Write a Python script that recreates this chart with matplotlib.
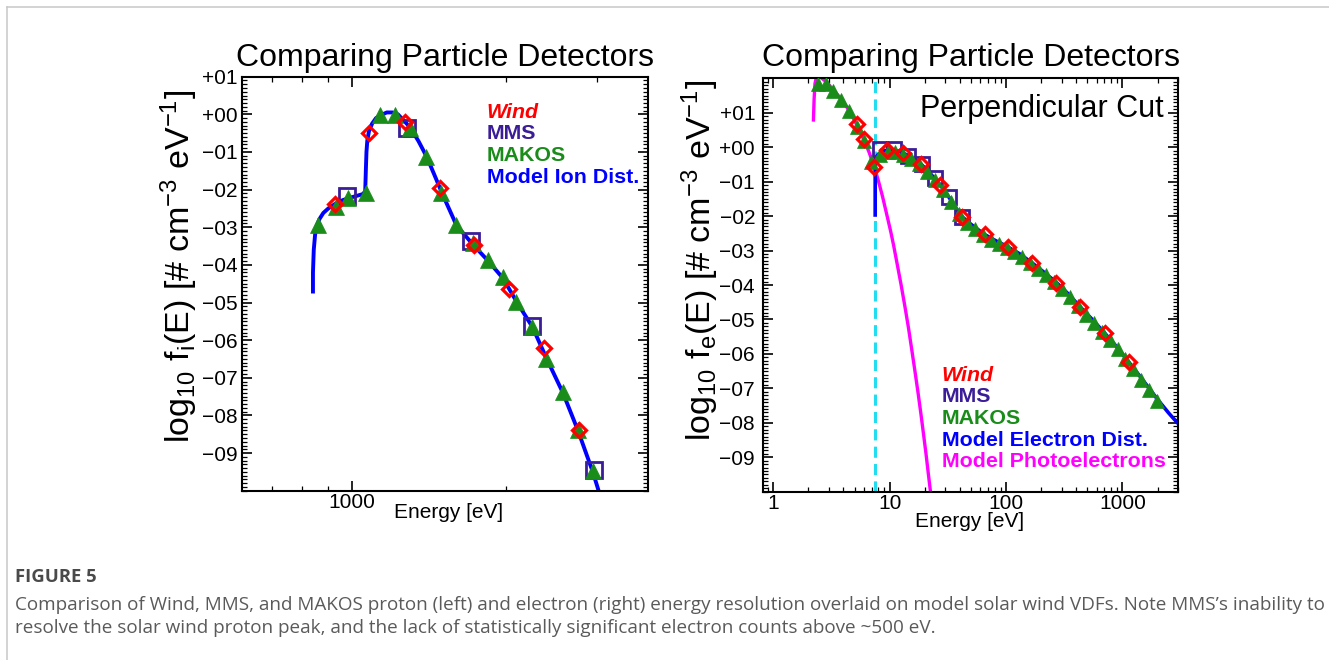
import numpy as np
import matplotlib
matplotlib.use("Agg")
import matplotlib.pyplot as plt
from matplotlib.ticker import FixedLocator, FuncFormatter, MultipleLocator, LogLocator, NullFormatter
from matplotlib.lines import Line2D

plt.rcParams['font.family'] = ['Liberation Sans', 'DejaVu Sans']
plt.rcParams['mathtext.fontset'] = 'custom'
plt.rcParams['mathtext.rm'] = 'Liberation Sans'
plt.rcParams['mathtext.it'] = 'Liberation Sans:italic'
plt.rcParams['mathtext.bf'] = 'Liberation Sans:bold'
plt.rcParams['lines.scale_dashes'] = False

# ---------------- data: left panel (protons) ----------------
ion_model_E = [840, 840, 843, 848, 855, 865, 880, 900, 930, 960, 990, 1020, 1050, 1062,
               1065, 1068, 1072, 1080, 1095, 1115, 1140, 1170, 1200, 1230, 1270, 1300,
               1350, 1400, 1450, 1500, 1600, 1720, 1840, 1970, 2100, 2250, 2400, 2580,
               2760, 2950, 3060]
ion_model_y = [-4.76, -4.2, -3.6, -3.2, -2.95, -2.78, -2.62, -2.5, -2.37, -2.28, -2.22,
               -2.17, -2.12, -2.05, -1.5, -1.0, -0.7, -0.45, -0.25, -0.1, -0.02, 0.05,
               0.05, 0.0, -0.2, -0.35, -0.72, -1.13, -1.62, -2.1, -2.95, -3.45, -3.88,
               -4.35, -5.0, -5.65, -6.5, -7.4, -8.4, -9.5, -10.2]
ion_wind_E = [928, 1081, 1269, 1485, 1734, 2021, 2369, 2770]
ion_wind_y = [-2.37, -0.49, -0.20, -1.97, -3.48, -4.63, -6.21, -8.38]
ion_mms_E = [980, 1284, 1707, 2247, 2960]
ion_mms_y = [-2.16, -0.37, -3.36, -5.63, -9.46]
ion_makos_E = [861, 930, 985, 1065, 1136, 1215, 1298, 1394, 1492, 1596, 1720, 1840,
               1970, 2089, 2250, 2393, 2580, 2757, 2950]
ion_makos_y = [-2.94, -2.45, -2.23, -2.10, -0.02, -0.02, -0.35, -1.13, -2.10, -2.94,
               -3.43, -3.86, -4.32, -4.98, -5.65, -6.49, -7.38, -8.40, -9.48]

# ---------------- data: right panel (electrons) ----------------
ele_model_E = [7.5, 7.5, 8.0, 9.0, 10.5, 12, 14, 16.5, 18.7, 22, 27.3, 33, 38, 41.9, 50,
               65, 80, 103, 130, 166, 210, 271, 340, 432, 550, 705, 900, 1129, 1450,
               2000, 2500, 3000]
ele_model_y = [-2.02, -0.32, -0.2, -0.1, -0.07, -0.12, -0.22, -0.36, -0.50, -0.74, -1.10,
               -1.50, -1.82, -2.02, -2.24, -2.53, -2.70, -2.89, -3.09, -3.35, -3.62,
               -3.93, -4.25, -4.63, -5.0, -5.40, -5.81, -6.23, -6.7, -7.32, -7.72, -8.02]
photo_E = [2.21, 2.24, 2.28, 2.35, 2.5, 2.84, 3.25, 3.83, 4.45, 5.2, 6.0, 6.6, 7.37, 8.0,
           8.7, 9.5, 10.2, 10.8, 11.6, 12.5, 13.5, 14.5, 15.5, 16.5, 17.5, 18.5, 19.5,
           20.5, 21.5, 22.4, 23.0]
photo_y = [0.79, 1.4, 1.85, 2.05, 2.05, 1.9, 1.68, 1.40, 1.08, 0.66, 0.22, -0.12, -0.57,
           -0.98, -1.45, -2.0, -2.45, -2.85, -3.4, -3.98, -4.62, -5.25, -5.9, -6.52,
           -7.12, -7.72, -8.32, -8.9, -9.5, -10.0, -10.4]
ele_wind_E = [5.23, 6.04, 7.37, 9.48, 13.0, 18.7, 27.3, 41.9, 65.3, 103, 166, 271, 432,
              705, 1129]
ele_wind_y = [0.67, 0.24, -0.57, -0.08, -0.16, -0.50, -1.10, -2.02, -2.53, -2.89, -3.35,
              -3.93, -4.63, -5.40, -6.23]
ele_mms_E = [8.3, 10.9, 14.4, 19.0, 24.5, 32.2, 42.0]
ele_mms_y = [-0.06, -0.06, -0.26, -0.50, -0.89, -1.45, -2.03]
ele_makos_E = [2.44, 2.84, 3.25, 3.83, 4.45, 5.2, 6.0, 6.9,
               8.2, 9.6, 11.2, 13.1, 15.3, 17.9, 21.0, 24.5, 28.7, 33.6, 39.3, 46.0,
               53.8, 62.9, 73.6, 86.1, 101, 118, 138, 161, 189, 221, 258, 302, 354, 414,
               484, 566, 663, 775, 907, 1061, 1242, 1453, 1700, 1990]
ele_makos_y = [1.83, 1.83, 1.62, 1.37, 1.05, 0.60, 0.17, -0.42,
               -0.23, -0.13, -0.14, -0.22, -0.34, -0.50, -0.72, -0.96, -1.25, -1.59,
               -1.94, -2.19, -2.37, -2.55, -2.68, -2.81, -2.93, -3.05, -3.20, -3.37,
               -3.54, -3.72, -3.92, -4.13, -4.36, -4.61, -4.86, -5.09, -5.35, -5.60,
               -5.87, -6.15, -6.45, -6.75, -7.05, -7.36]
cutoff_E = 7.5

y_ticks = list(range(-9, 2))
left_xticks = [1000]
right_xticks = [1, 10, 100, 1000]

legend_left = ["Wind", "MMS", "MAKOS", "Model Ion Dist."]
legend_right = ["Wind", "MMS", "MAKOS", "Model Electron Dist.", "Model Photoelectrons"]
title = "Comparing Particle Detectors"
caption_head = "FIGURE 5"
caption_1 = ("Comparison of Wind, MMS, and MAKOS proton (left) and electron (right) energy "
             "resolution overlaid on model solar wind VDFs. Note MMS\u2019s inability to")
caption_2 = ("resolve the solar wind proton peak, and the lack of statistically significant "
             "electron counts above ~500 eV.")

# ---------------- styling ----------------
WIND_C = '#ff0000'
MMS_C = '#3a1d97'
MAKOS_C = '#1a8c1a'
MODEL_C = '#0000ff'
PHOTO_C = '#ff00ff'
CYAN_C = '#22dcf0'

W, H = 1329, 660
fig = plt.figure(figsize=(W / 100, H / 100), dpi=100)


def px_axes(x0, y0, x1, y1):
    return fig.add_axes([x0 / W, 1 - y1 / H, (x1 - x0) / W, (y1 - y0) / H])


def ftext(x, y, s, **kw):
    return fig.text(x / W, 1 - y / H, s, **kw)


def ylab(v, pos):
    n = int(round(v))
    return ('+' if n >= 0 else '\u2212') + f"{abs(n):02d}"


def style_axes(ax, ypad):
    for sp in ax.spines.values():
        sp.set_linewidth(1.5)
    ax.tick_params(which='both', direction='in', top=True, right=True, labelsize=15,
                   colors='black')
    ax.tick_params(which='major', length=7.5, width=1.2)
    ax.tick_params(which='minor', length=3.8, width=0.9)
    ax.tick_params(axis='x', which='both', pad=2)
    ax.tick_params(axis='y', which='both', pad=ypad)
    ax.yaxis.set_major_locator(FixedLocator(y_ticks))
    ax.yaxis.set_major_formatter(FuncFormatter(ylab))
    ax.yaxis.set_minor_locator(MultipleLocator(0.1))


# ---------------- left panel ----------------
axL = px_axes(241.7, 76.7, 648, 490.7)
axL.set_xscale('log')
axL.plot(ion_model_E, ion_model_y, color=MODEL_C, lw=2.8, solid_capstyle='butt', zorder=2)
axL.plot(ion_mms_E, ion_mms_y, ls='none', marker='s', ms=11, mfc='none', mec=MMS_C,
         mew=2.0, zorder=3)
axL.plot(ion_makos_E, ion_makos_y, ls='none', marker='^', ms=11, mfc=MAKOS_C, mec=MAKOS_C,
         mew=0.5, zorder=4)
axL.plot(ion_wind_E, ion_wind_y, ls='none', marker='D', ms=6.8, mfc='none', mec=WIND_C,
         mew=2.3, zorder=5)
axL.set_xlim(610, 3780)
axL.set_ylim(-10, 1)
axL.xaxis.set_major_locator(FixedLocator(left_xticks))
axL.xaxis.set_major_formatter(FuncFormatter(lambda v, p: f"{v:.0f}"))
axL.xaxis.set_minor_locator(LogLocator(base=10, subs=np.arange(2, 10), numticks=20))
axL.xaxis.set_minor_formatter(NullFormatter())
style_axes(axL, 3)

# ---------------- right panel ----------------
axR = px_axes(762.7, 78.3, 1178, 491.7)
axR.set_xscale('log')
vl = axR.axvline(cutoff_E, color=CYAN_C, lw=2.2, zorder=1)
vl.set_dashes((8.0, 4.5))
axR.plot(photo_E, photo_y, color=PHOTO_C, lw=2.4, zorder=2)
axR.plot(ele_model_E, ele_model_y, color=MODEL_C, lw=2.6, solid_capstyle='butt', zorder=2.5)
axR.plot(ele_mms_E, ele_mms_y, ls='none', marker='s', ms=10, mfc='none', mec=MMS_C,
         mew=2.0, zorder=3)
axR.plot(ele_makos_E, ele_makos_y, ls='none', marker='^', ms=9.5, mfc=MAKOS_C, mec=MAKOS_C,
         mew=0.5, zorder=4)
axR.plot(ele_wind_E, ele_wind_y, ls='none', marker='D', ms=6.8, mfc='none', mec=WIND_C,
         mew=2.3, zorder=5)
axR.set_xlim(0.81, 3000)
axR.set_ylim(-10, 2)
axR.xaxis.set_major_locator(FixedLocator(right_xticks))
axR.xaxis.set_major_formatter(FuncFormatter(lambda v, p: f"{v:.0f}"))
axR.xaxis.set_minor_locator(LogLocator(base=10, subs=np.arange(2, 10), numticks=20))
axR.xaxis.set_minor_formatter(NullFormatter())
style_axes(axR, 5.5)

# ---------------- titles, labels, legends ----------------
ftext(445, 66, title, fontsize=23, ha='center', va='baseline')
ftext(970.5, 66, title, fontsize=23, ha='center', va='baseline')
ftext(1164, 117.5, "Perpendicular Cut", fontsize=22, ha='right', va='baseline')

ftext(179, 266, r"log$_{10}$ f$_{\rm i}$(E) [# cm$^{-3}$ eV$^{-1}$]", fontsize=24.5,
      rotation=90, ha='center', va='center')
ftext(700, 260, r"log$_{10}$ f$_{\rm e}$(E) [# cm$^{-3}$ eV$^{-1}$]", fontsize=24.5,
      rotation=90, ha='center', va='center')
ftext(449, 518.5, "Energy [eV]", fontsize=15, ha='center', va='baseline')
ftext(970, 527, "Energy [eV]", fontsize=15, ha='center', va='baseline')

left_colors = [WIND_C, MMS_C, MAKOS_C, MODEL_C]
left_base = [117.5, 139.2, 160.9, 182.6]
for s, c, yb in zip(legend_left, left_colors, left_base):
    ftext(486.7, yb, s, fontsize=15.4, fontweight='bold', color=c, va='baseline',
          style='italic' if s == 'Wind' else 'normal')

right_colors = [WIND_C, MMS_C, MAKOS_C, MODEL_C, PHOTO_C]
right_base = [381, 402.5, 424, 445.5, 467]
for s, c, yb in zip(legend_right, right_colors, right_base):
    ftext(941.7, yb, s, fontsize=15.4, fontweight='bold', color=c, va='baseline',
          style='italic' if s == 'Wind' else 'normal')

# ---------------- page frame and caption ----------------
fig.add_artist(Line2D([7 / W, 1.0], [1 - 7 / H, 1 - 7 / H], color='#c8c8c8', lw=1.1,
                      transform=fig.transFigure))
fig.add_artist(Line2D([7 / W, 7 / W], [0.0, 1 - 7 / H], color='#c8c8c8', lw=1.1,
                      transform=fig.transFigure))

ftext(15, 582, caption_head, fontsize=13.3, fontweight='bold', color='#4a4a4a',
      family=['Open Sans', 'DejaVu Sans'], va='baseline')
c1 = ftext(15, 610, caption_1, fontsize=12, color='#5a5a5a',
           family=['Open Sans', 'DejaVu Sans'], va='baseline')
c2 = ftext(15, 633, caption_2, fontsize=12, color='#5a5a5a',
           family=['Open Sans', 'DejaVu Sans'], va='baseline')
fig.canvas.draw()
wpx = c1.get_window_extent().width
fs = 12 * 1307 / wpx
c1.set_fontsize(fs)
c2.set_fontsize(fs)

fig.savefig("out.png", dpi=100)
